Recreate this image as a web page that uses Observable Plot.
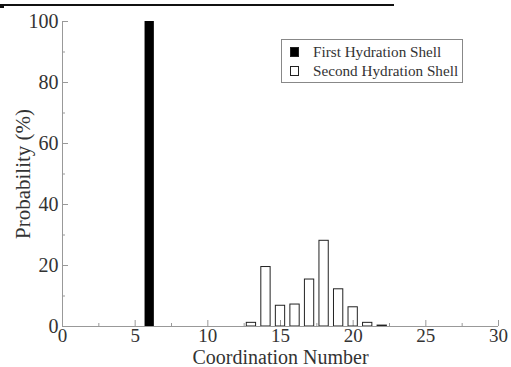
<!DOCTYPE html>
<html>
<head>
<meta charset="utf-8">
<script src="https://cdn.jsdelivr.net/npm/d3@7"></script>
<script src="https://cdn.jsdelivr.net/npm/@observablehq/plot@0.6"></script>
<style>
  html, body { margin: 0; padding: 0; background: #fff; }
  #wrap { position: relative; width: 511px; height: 367px; overflow: hidden; font-family: "Liberation Serif", serif; }
  #chart svg text { font-family: "Liberation Serif", serif; }
  #topline { position: absolute; left: 0; top: 4px; width: 394px; height: 2px; background: #111; }
  #topmark { position: absolute; left: 0; top: 6px; width: 4px; height: 2px; background: #111; }
  #legend { position: absolute; left: 281px; top: 39px; width: 180px; height: 42px; border: 1px solid #888; background: #fff; color: #333; font-family: "Liberation Serif", serif; font-size: 15.2px; }
  .row { position: absolute; left: 8px; display: flex; align-items: center; white-space: nowrap; line-height: 18px; font-family: "Liberation Serif", serif; }
  .sw { width: 9px; height: 10px; border: 1px solid #222; margin-right: 14px; box-sizing: border-box; }
</style>
</head>
<body>
<div id="wrap">
  <div id="chart"></div>
  <div id="topline"></div><div id="topmark"></div>
  <div id="legend">
    <div class="row" style="top:3px"><span class="sw" style="background:#000"></span><span>First Hydration Shell</span></div>
    <div class="row" style="top:22px"><span class="sw" style="background:#fff"></span><span>Second Hydration Shell</span></div>
  </div>
</div>
<script>
// Data
const firstCN = [6];
const firstProb = [100];
const secondCN = [13, 14, 15, 16, 17, 18, 19, 20, 21, 22];
const secondProb = [1.2, 19.5, 6.8, 7.2, 15.4, 28.1, 12.2, 6.3, 1.2, 0.3];
const xMajor = [0, 5, 10, 15, 20, 25, 30];
const xMinor = [2.5, 7.5, 12.5, 17.5, 22.5, 27.5];
const yMajor = [0, 20, 40, 60, 80, 100];
const yMinor = [10, 30, 50, 70, 90];

const first = firstCN.map((c, i) => ({cn: c, p: firstProb[i]}));
const second = secondCN.map((c, i) => ({cn: c, p: secondProb[i]}));
const half = 0.32;

const axisColor = "#999";
const textColor = "#333";
const serif = "'Liberation Serif', serif";

const chart = Plot.plot({
  width: 511,
  height: 367,
  marginLeft: 62,
  marginRight: 13,
  marginTop: 21,
  marginBottom: 41,
  style: {fontFamily: serif, color: textColor, background: "#fff"},
  x: {domain: [0, 30]},
  y: {domain: [0, 100]},
  marks: [
    Plot.axisX(xMinor, {tickSize: -3, tickFormat: () => "", stroke: axisColor, label: null}),
    Plot.axisX(xMajor, {tickSize: -6, tickPadding: 8, fontSize: 19, fontFamily: serif, stroke: axisColor, fill: textColor, label: null}),
    Plot.axisX({ticks: [], label: "Coordination Number", labelAnchor: "center", labelOffset: 37, labelArrow: "none",
      fontSize: 20, fontFamily: serif, fill: textColor, tickSize: 0}),
    Plot.axisY(yMinor, {tickSize: -3, tickFormat: () => "", stroke: axisColor, label: null}),
    Plot.axisY(yMajor, {tickSize: -6, tickPadding: 10, fontSize: 20, fontFamily: serif, stroke: axisColor, fill: textColor, label: null}),
    Plot.axisY({ticks: [], label: "Probability (%)", labelAnchor: "center", labelOffset: 47, labelArrow: "none",
      fontSize: 21, fontFamily: serif, fill: textColor, tickSize: 0}),
    Plot.rectY(first, {x1: d => d.cn - half, x2: d => d.cn + half, y: "p", fill: "#000"}),
    Plot.rectY(second, {x1: d => d.cn - half, x2: d => d.cn + half, y: "p", fill: "none", stroke: "#222", strokeWidth: 1}),
    Plot.ruleX([0], {stroke: axisColor}),
    Plot.ruleY([0], {stroke: axisColor})
  ]
});
document.getElementById("chart").appendChild(chart);
</script>
</body>
</html>
